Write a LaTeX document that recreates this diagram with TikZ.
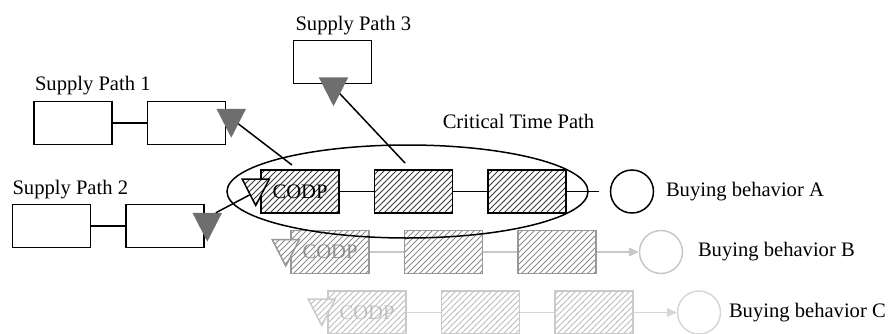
\documentclass[tikz,border=0pt]{standalone}
\usepackage{fontspec}
\setmainfont{Liberation Serif}
\usetikzlibrary{arrows.meta, positioning, patterns, shapes.geometric}
\definecolor{markgray}{HTML}{6E6E6E}
\definecolor{hatchA}{HTML}{3C3C3C}
\definecolor{drawB}{HTML}{989898}
\definecolor{hatchB}{HTML}{8C8C8C}
\definecolor{textB}{HTML}{8E8E8E}
\definecolor{lineB}{HTML}{C8C8C8}
\definecolor{drawC}{HTML}{CACACA}
\definecolor{hatchC}{HTML}{BDBDBD}
\definecolor{textC}{HTML}{C0C0C0}
\definecolor{lineC}{HTML}{D6D6D6}

\begin{document}
\begin{tikzpicture}[
        x=0.5pt, y=-0.5pt, line width=0.75pt,
        >={Triangle[length=5pt,width=4.5pt]},
        every node/.style={font=\fontsize{10.3pt}{12pt}\selectfont, inner sep=0pt},
        plain/.style={draw, minimum width=39pt, minimum height=21.5pt},
        stage/.style={plain, pattern=north east lines},
        codp/.style={regular polygon, regular polygon sides=3, shape border rotate=180,
            minimum size=15.6pt, yscale=1.13, anchor=north},
        codpmark/.style={codp, draw, preaction={fill=white}, pattern=north east lines},
        supply/.style={codp, fill=markgray, draw=markgray},
        buyer/.style={circle, draw, minimum size=21.5pt},
        ]
        \useasboundingbox (0,0) rectangle (896,333);

        % buying behavior C
        \begin{scope}[every node/.append style={draw=drawC, pattern color=hatchC, text=textC}]
          \node[stage]                   (c1) at (367,312.5) {CODP};
          \node[stage, right=17pt of c1] (c2) {};
          \node[stage, right=17pt of c2] (c3) {};
          \node[codpmark] (tC) at ([xshift=-2.75pt, yshift=-4pt]c1.north west) {};
        \end{scope}
        \node[buyer, draw=lineC, right=21.5pt of c3] (cC) {};
        \node[right=3.5pt of cC] (bC) {Buying behavior C};
        \draw[lineC] (c1) -- (c2) (c2) -- (c3);
        \draw[lineC, ->] (c3) -- (cC);

        % buying behavior B
        \begin{scope}[every node/.append style={draw=drawB, pattern color=hatchB, text=textB}]
          \node[stage]                   (b1) at (330,252) {CODP};
          \node[stage, right=17pt of b1] (b2) {};
          \node[stage, right=17pt of b2] (b3) {};
          \node[codpmark] (tB) at ([xshift=-2.25pt, yshift=-4.5pt]b1.north west) {};
        \end{scope}
        \node[buyer, draw=lineB, right=21pt of b3] (cB) {};
        \node[right=7pt of cB] (bB) {Buying behavior B};
        \draw[lineB] (b1) -- (b2) (b2) -- (b3);
        \draw[lineB, ->] (b3) -- (cB);

        % buying behavior A
        \begin{scope}[every node/.append style={pattern color=hatchA}]
          \node[stage]                   (a1) at (300,191.5) {CODP};
          \node[stage, right=17pt of a1] (a2) {};
          \node[stage, right=17pt of a2] (a3) {};
          \node[codpmark] (tA) at ([xshift=-2.25pt, yshift=-4.5pt]a1.north west) {};
        \end{scope}
        \node[buyer, right=21.5pt of a3] (cA) {};
        \node[right=5.5pt of cA] (bA) {Buying behavior A};
        \coordinate (eA) at ([xshift=-5.5pt]cA.west);
        \draw (a1) -- (a2) (a2) -- (a3) (a3) -- (eA);

        \node[ellipse, draw, minimum width=180.5pt, minimum height=46.5pt] (ctp) at (407.5,191.5) {};
        \node[anchor=base west] (ctpl) at (442,128) {Critical Time Path};

        % supply paths
        \node[plain]                   (s1a) at (73,123) {};
        \node[plain, right=17pt of s1a] (s1b) {};
        \node[anchor=base west] (l1) at ([xshift=0.5pt, yshift=5pt]s1a.north west) {Supply Path 1};
        \node[supply] (t1) at ([xshift=2.5pt, yshift=-4pt]s1b.north east) {};

        \node[plain]                   (s2a) at (51.5,226) {};
        \node[plain, right=17pt of s2a] (s2b) {};
        \node[anchor=base west] (l2) at ([xshift=0pt, yshift=4.5pt]s2a.north west) {Supply Path 2};
        \node[supply] (t2) at ([xshift=1.25pt, yshift=-4.5pt]s2b.north east) {};

        \node[plain] (s3) at (332.5,62) {};
        \node[anchor=base west] (l3) at ([xshift=1pt, yshift=4.5pt]s3.north west) {Supply Path 3};
        \node[supply] (t3) at ([xshift=0.5pt, yshift=3.5pt]s3.south) {};

        \draw (s1a) -- (s1b) (s2a) -- (s2b);

        \coordinate (p1) at (292,165);
        \coordinate (p3) at (405,163);
        \draw (p1) -- (t1);
        \draw (p3) -- (t3);
        \draw (t2.north east) -- (tA.south west);
      \end{tikzpicture}
\end{document}
